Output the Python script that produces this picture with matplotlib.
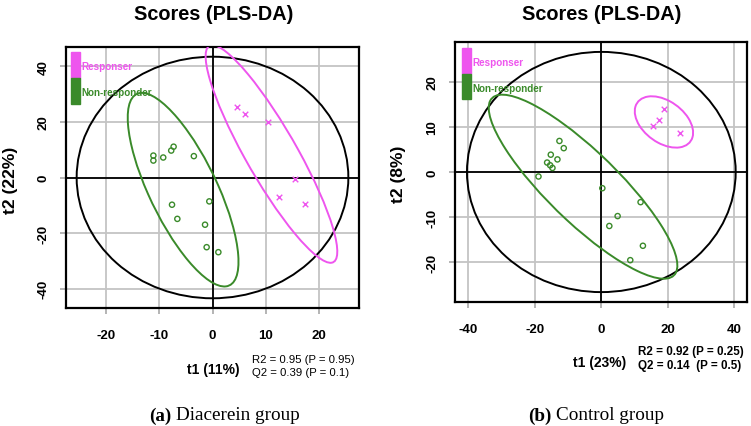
import numpy as np
import matplotlib
matplotlib.use("Agg")
from matplotlib import pyplot as plt
from matplotlib.patches import Ellipse, Rectangle

# ---- data ----
# (a) Diacerein group
dia_non_t1 = [-11.1, -11.1, -9.25, -7.75, -7.3, -3.5, -7.6, -6.6, -0.6, -1.4, -1.1, 1.1]
dia_non_t2 = [7.9, 6.1, 7.2, 9.7, 11.1, 7.7, -9.8, -14.9, -8.6, -17.0, -25.1, -26.9]
dia_res_t1 = [4.6, 6.1, 10.5, 15.4, 12.4, 17.4]
dia_res_t2 = [25.4, 23.0, 19.9, -0.6, -7.2, -9.6]
dia_hotelling = (25.5, 43.5)
dia_labels = ("t1 (11%)", "t2 (22%)")
dia_stats = ["R2 = 0.95 (P = 0.95)", "Q2 = 0.39 (P = 0.1)"]
dia_xticks = [-20, -10, 0, 10, 20]
dia_yticks = [-40, -20, 0, 20, 40]

# (b) Control group
ctl_non_t1 = [-12.6, -11.3, -15.2, -13.2, -16.3, -15.4, -14.7, -18.9, 0.3, 11.8, 4.9, 2.4, 12.5, 8.7]
ctl_non_t2 = [6.9, 5.3, 3.85, 2.8, 2.1, 1.5, 0.9, -1.0, -3.6, -6.7, -9.8, -12.0, -16.4, -19.6]
ctl_res_t1 = [18.7, 17.4, 15.4, 23.8]
ctl_res_t2 = [14.1, 11.6, 10.2, 8.6]
ctl_hotelling = (40.4, 26.7)
ctl_labels = ("t1 (23%)", "t2 (8%)")
ctl_stats = ["R2 = 0.92 (P = 0.25)", "Q2 = 0.14  (P = 0.5)"]
ctl_xticks = [-40, -20, 0, 20, 40]
ctl_yticks = [-20, -10, 0, 10, 20]

MAG = "#ee55ee"
GRN = "#3a8a2a"
CHI2_95 = 5.991  # chi-square 2 df, 95%

W, H = 751, 427
plt.rcParams["font.family"] = ["Liberation Sans", "DejaVu Sans"]
plt.rcParams["axes.unicode_minus"] = False
fig = plt.figure(figsize=(W / 100, H / 100), dpi=100)


def fx(px):
    return px / W


def fy(py):
    return 1 - py / H


def class_ellipse(ax, x, y, color):
    x = np.asarray(x)
    y = np.asarray(y)
    cov = np.cov(x, y)
    vals, vecs = np.linalg.eigh(cov)
    order = vals.argsort()[::-1]
    vals, vecs = vals[order], vecs[:, order]
    angle = np.degrees(np.arctan2(vecs[1, 0], vecs[0, 0]))
    w, h = 2 * np.sqrt(CHI2_95 * vals)
    ax.add_patch(Ellipse((x.mean(), y.mean()), w, h, angle=angle,
                         fill=False, ec=color, lw=1.4, zorder=3))


def panel(box, xlim, ylim, xticks, yticks, non_t1, non_t2, res_t1, res_t2, hot):
    ax = fig.add_axes([fx(box[0]), fy(box[3]), fx(box[2] - box[0]), (box[3] - box[1]) / H])
    ax.set_xlim(xlim)
    ax.set_ylim(ylim)
    ax.set_xticks(xticks)
    ax.set_yticks(yticks)
    ax.grid(True, color="#c4c4c4", lw=1.3, zorder=0)
    ax.tick_params(color="#a8a8a8", length=4, width=1.2, labelsize=9.5)
    ax.tick_params(axis="x", pad=11)
    ax.tick_params(axis="y", pad=8)
    for lab in ax.get_xticklabels():
        lab.set_fontweight("bold")
    for lab in ax.get_yticklabels():
        lab.set_fontweight("bold")
        lab.set_rotation(90)
        lab.set_va("center")
    for s in ax.spines.values():
        s.set_linewidth(1.6)
    ax.axhline(0, color="black", lw=1.3, zorder=2)
    ax.axvline(0, color="black", lw=1.3, zorder=2)
    ax.add_patch(Ellipse((0, 0), 2 * hot[0], 2 * hot[1], fill=False, ec="black", lw=1.4, zorder=2))
    class_ellipse(ax, non_t1, non_t2, GRN)
    class_ellipse(ax, res_t1, res_t2, MAG)
    ax.scatter(non_t1, non_t2, s=14, facecolors="none", edgecolors=GRN, linewidths=1.0, zorder=4)
    ax.scatter(res_t1, res_t2, s=16, marker="x", color=MAG, linewidths=1.0, zorder=4)
    return ax


def legend(x0, y0, y1, y2):
    fig.patches.append(Rectangle((fx(x0), fy(y1)), fx(9), (y1 - y0) / H, color=MAG,
                                 transform=fig.transFigure, zorder=5))
    fig.patches.append(Rectangle((fx(x0), fy(y2)), fx(9), (y2 - y1) / H, color=GRN,
                                 transform=fig.transFigure, zorder=5))
    fig.text(fx(x0 + 10), fy(y0 + 14), "Responser", color=MAG, fontsize=7.1,
             fontweight="bold", va="center", zorder=6)
    fig.text(fx(x0 + 10), fy(y1 + 14), "Non-responder", color=GRN, fontsize=7.1,
             fontweight="bold", va="center", zorder=6)


# (a)
panel((66, 48, 359, 309), (-27.5, 27.5), (-47, 47), dia_xticks, dia_yticks,
      dia_non_t1, dia_non_t2, dia_res_t1, dia_res_t2, dia_hotelling)
legend(71, 53, 79, 105)
fig.text(fx(214), fy(14), "Scores (PLS-DA)", ha="center", va="center", fontsize=14.3, fontweight="bold")
fig.text(fx(10), fy(180), dia_labels[1], rotation=90, ha="center", va="center", fontsize=12.5, fontweight="bold")
fig.text(fx(213), fy(370), dia_labels[0], ha="center", va="center", fontsize=10, fontweight="bold")
fig.text(fx(252), fy(360), dia_stats[0], ha="left", va="center", fontsize=8.2)
fig.text(fx(252), fy(373), dia_stats[1], ha="left", va="center", fontsize=8.2)

# (b)
panel((455, 43, 747, 303), (-44, 43.8), (-28.9, 28.9), ctl_xticks, ctl_yticks,
      ctl_non_t1, ctl_non_t2, ctl_res_t1, ctl_res_t2, ctl_hotelling)
legend(462, 49, 75, 100)
fig.text(fx(602), fy(15), "Scores (PLS-DA)", ha="center", va="center", fontsize=14.3, fontweight="bold")
fig.text(fx(399), fy(174), ctl_labels[1], rotation=90, ha="center", va="center", fontsize=12.5, fontweight="bold")
fig.text(fx(600), fy(363), ctl_labels[0], ha="center", va="center", fontsize=10, fontweight="bold")
fig.text(fx(638), fy(352), ctl_stats[0], ha="left", va="center", fontsize=8.4, fontweight="bold")
fig.text(fx(638), fy(366), ctl_stats[1], ha="left", va="center", fontsize=8.4, fontweight="bold")

# captions: bold tag then regular text, centred as one line
serif = ["Liberation Serif", "DejaVu Serif"]
cap_size = 13.8
for cx, tag, rest in [(226, "(a)", "Diacerein group"), (598, "(b)", "Control group")]:
    probe = fig.text(0, 0, tag + "  " + rest, family=serif, fontsize=cap_size)
    fig.canvas.draw()
    total = probe.get_window_extent().width
    probe.remove()
    left = cx - total / 2
    tt = fig.text(fx(left), fy(416), tag, family=serif, fontsize=cap_size, fontweight="bold",
                  ha="left", va="center")
    fig.canvas.draw()
    x_end = tt.get_window_extent().x1
    fig.text((x_end + 5) / W, fy(416), rest, family=serif, fontsize=cap_size,
             ha="left", va="center")

fig.savefig("out.png", dpi=100)
